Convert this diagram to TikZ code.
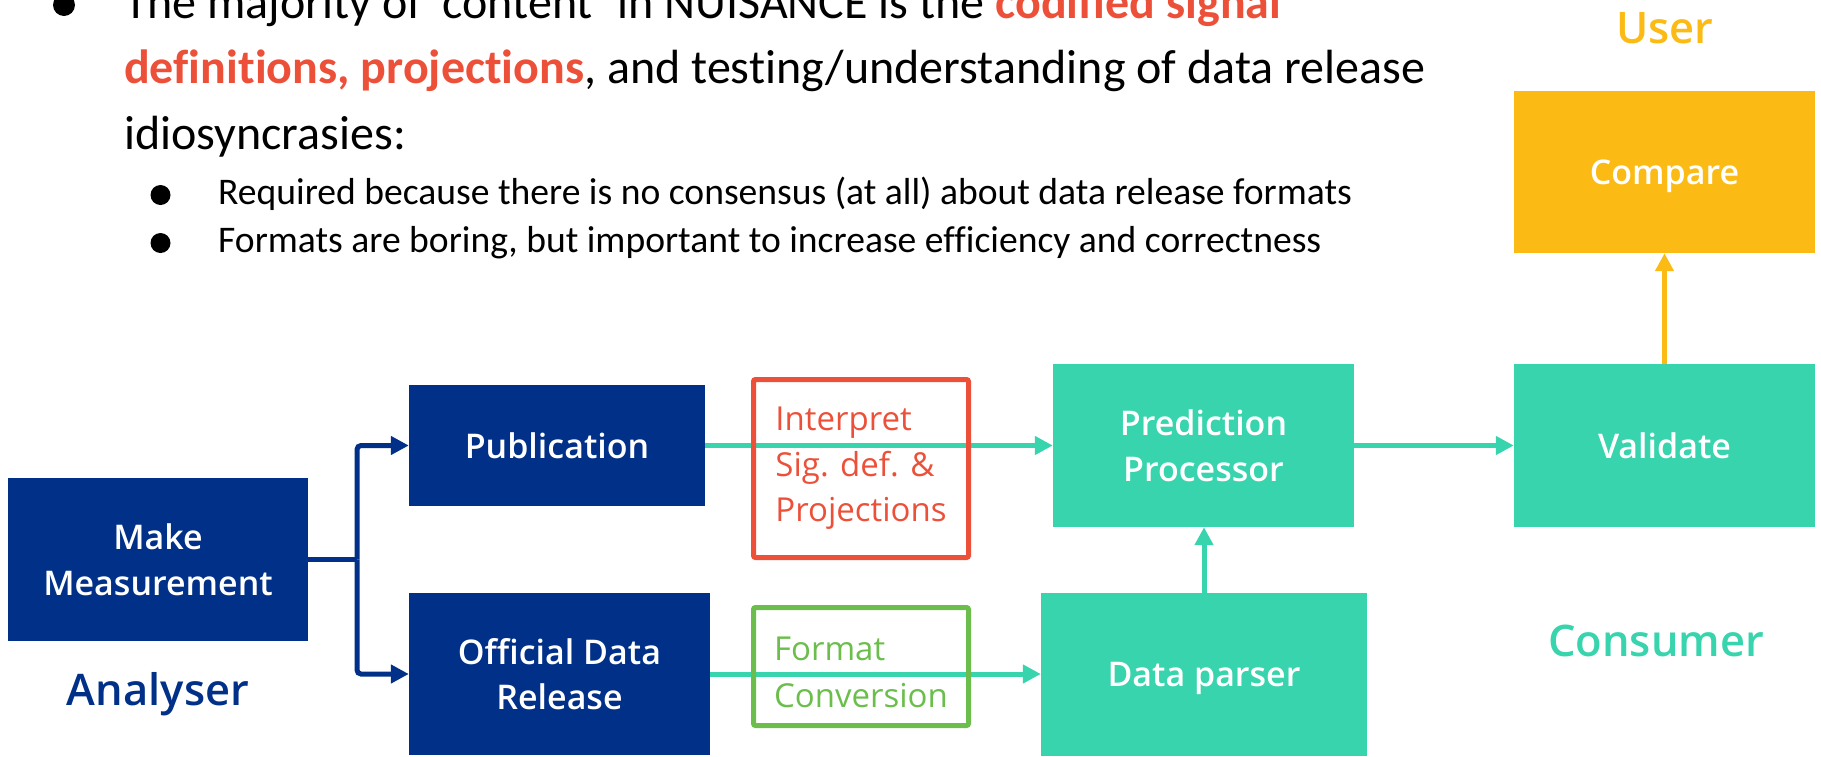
\documentclass[tikz,border=0pt]{standalone}
\usepackage{fontspec}
\setmainfont{Carlito}[Ligatures={TeX,NoCommon}]
\newfontfamily\osans{Open Sans}
\IfFontExistsTF{Open Sans SemiBold}
  {\newfontfamily\osemi{Open Sans SemiBold}}
  {\IfFontExistsTF{Open Sans Semibold}
    {\newfontfamily\osemi{Open Sans Semibold}}
    {\newcommand\osemi{\osans\bfseries}}}
\usetikzlibrary{arrows.meta}

\definecolor{navy}{HTML}{003087}
\definecolor{mint}{HTML}{37D4AD}
\definecolor{amber}{HTML}{FBBB14}
\definecolor{tomato}{HTML}{EC5039}
\definecolor{leaf}{HTML}{6BBE4B}

\begin{document}
\begin{tikzpicture}[x=1pt,y=-1pt,
  block/.style={rectangle, inner sep=0pt, text=white, align=center,
    font=\osemi\fontsize{34}{45.5}\selectfont},
  navybox/.style={block, fill=navy},
  mintbox/.style={block, fill=mint},
  amberbox/.style={block, fill=amber},
  framebox/.style={rectangle, inner sep=0pt, line width=5pt, rounded corners=2pt,
    align=left, font=\osans\fontsize{33}{45.5}\selectfont},
  flow/.style={line width=5pt, -{Triangle[length=18pt,width=18pt]}},
  role/.style={anchor=base, inner sep=0pt, font=\osemi\fontsize{43.5}{50}\selectfont},
  dot/.style={circle, fill=black, inner sep=0pt},
  mainline/.style={anchor=base west, inner sep=0pt, font=\fontsize{48}{65}\selectfont},
  subline/.style={anchor=base west, inner sep=0pt, font=\fontsize{37.6}{48}\selectfont},
]
\useasboundingbox (0,0) rectangle (1821,756);

% bulleted text
\node[dot, minimum size=22pt] (b0) at (64,5) {};
\node[mainline] (l1) at (124,18)
  {The majority of `content' in NUISANCE is the \textcolor{tomato}{\bfseries codified signal}};
\node[mainline] (l2) at (124,83)
  {\textcolor{tomato}{\bfseries definitions, projections}, and testing/understanding of data release};
\node[mainline] (l3) at (124,149) {idiosyncrasies:};
\node[dot, minimum size=20pt] (b1) at (160.5,195) {};
\node[subline] (s1) at (218,204)
  {Required because there is no consensus (at all) about data release formats};
\node[dot, minimum size=20pt] (b2) at (160.5,243) {};
\node[subline] (s2) at (218,252)
  {Formats are boring, but important to increase efficiency and correctness};

% process blocks
\node[navybox, minimum width=300pt, minimum height=163pt] (mm) at (158,559.5) {Make\\Measurement};
\node[navybox, minimum width=296pt, minimum height=121pt, text depth=0pt] (pub) at (557,445.5) {Publication};
\node[navybox, minimum width=301pt, minimum height=162pt] (odr) at (559.5,674) {Official Data\\Release};
\node[mintbox, minimum width=301pt, minimum height=163pt] (pp) at (1203.5,445.5) {Prediction\\Processor};
\node[mintbox, minimum width=326pt, minimum height=163pt, text depth=0pt] (dp) at (1204,674.5) {Data parser};
\node[mintbox, minimum width=301pt, minimum height=163pt, text depth=0pt] (val) at (1664.5,445.5) {Validate};
\node[amberbox, minimum width=301pt, minimum height=162pt, text depth=0pt] (cmp) at (1664.5,172) {Compare};

% roles
\node[role, text=amber] (user) at (1665,43) {User};
\node[role, text=mint] (consumer) at (1656,656) {Consumer};
\node[role, text=navy] (analyser) at (158,705) {Analyser};

% connectors
\coordinate (split) at (357,559.5);
\draw[navy, line width=5pt] (mm.east) -- (split);
\draw[navy, flow, rounded corners=4pt] (split) |- (pub.west);
\draw[navy, flow, rounded corners=4pt] (split) |- (odr.west);
\draw[mint, flow] (pub.east) -- (pp.west);
\draw[mint, flow] (odr.east) -- (odr.east -| dp.west);
\draw[mint, flow] (dp.north) -- (dp.north |- pp.south);
\draw[mint, flow] (pp.east) -- (val.west);
\draw[amber, flow] (val.north) -- (cmp.south);

% annotation frames over the connectors
\node[framebox, draw=tomato, text=tomato, minimum width=215pt, minimum height=178pt]
  (interp) at (861,468.5) {Interpret\\Sig. def. \&\\Projections};
\node[framebox, draw=leaf, text=leaf, minimum width=215pt, minimum height=118pt,
  font=\osans\fontsize{33}{47}\selectfont]
  (conv) at (861,666.5) {\rule{0pt}{35pt}Format\\Conversion};
\end{tikzpicture}
\end{document}
